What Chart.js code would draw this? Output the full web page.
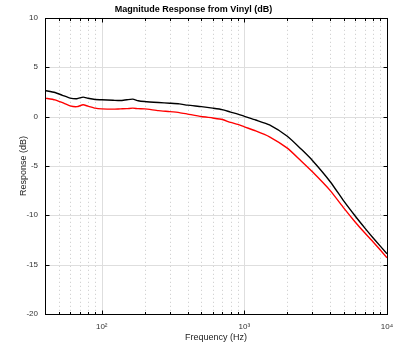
<!DOCTYPE html>
<html><head><meta charset="utf-8">
<script src="https://cdn.jsdelivr.net/npm/chart.js@4.4.1/dist/chart.umd.min.js"></script>
<style>html,body{margin:0;padding:0;background:#fff}#wrap{width:398px;height:347px}</style>
</head><body><div id="wrap"><canvas id="c" width="398" height="347"></canvas></div>
<script>
const freqHz = [40, 47, 53, 60, 67, 74, 80, 90, 100, 120, 135, 150, 165, 180, 200, 250, 300, 350, 400, 500, 600, 700, 800, 900, 1000, 1200, 1500, 2000, 2500, 3000, 4000, 5000, 6000, 7000, 8000, 10000];
const responseBlack = [2.64, 2.43, 2.15, 1.87, 1.80, 1.97, 1.85, 1.72, 1.70, 1.65, 1.62, 1.70, 1.76, 1.60, 1.52, 1.42, 1.35, 1.28, 1.15, 1.00, 0.85, 0.70, 0.45, 0.25, 0.02, -0.35, -0.85, -2.00, -3.30, -4.45, -6.60, -8.60, -10.10, -11.30, -12.30, -13.90];
const responseRed = [1.87, 1.69, 1.40, 1.08, 1.00, 1.19, 1.05, 0.85, 0.78, 0.75, 0.78, 0.80, 0.85, 0.80, 0.78, 0.60, 0.50, 0.40, 0.25, 0.00, -0.15, -0.30, -0.60, -0.80, -1.05, -1.45, -2.05, -3.20, -4.50, -5.60, -7.50, -9.30, -10.70, -11.80, -12.70, -14.30];
const yTickValues = [-20, -15, -10, -5, 0, 5, 10];
const xMajorTicks = [100, 1000, 10000];
const xTickLabels = ['10²', '10³', '10⁴'];
const xMinorGrid = [50, 60, 70, 80, 90, 200, 300, 400, 500, 600, 700, 800, 900, 2000, 3000, 4000, 5000, 6000, 7000, 8000, 9000];

const FONT = "'Liberation Sans', Arial, sans-serif";

const framePlugin = {
  id: 'frame',
  beforeDatasetsDraw(chart) {
    const {ctx, chartArea: a, scales: {x, y}} = chart;
    ctx.save();
    ctx.lineWidth = 1;
    ctx.strokeStyle = '#c8c8c8';
    ctx.setLineDash([1, 3]);
    xMinorGrid.forEach(v => {
      const px = Math.round(x.getPixelForValue(v)) + 0.5;
      ctx.beginPath(); ctx.moveTo(px, a.top); ctx.lineTo(px, a.bottom); ctx.stroke();
    });
    ctx.setLineDash([]);
    ctx.strokeStyle = '#dedede';
    xMajorTicks.forEach(v => {
      const px = Math.round(x.getPixelForValue(v)) + 0.5;
      ctx.beginPath(); ctx.moveTo(px, a.top); ctx.lineTo(px, a.bottom); ctx.stroke();
    });
    yTickValues.forEach(v => {
      const py = Math.round(y.getPixelForValue(v)) + 0.5;
      ctx.beginPath(); ctx.moveTo(a.left, py); ctx.lineTo(a.right, py); ctx.stroke();
    });
    ctx.restore();
  },
  afterDatasetsDraw(chart) {
    const {ctx, chartArea: a, scales: {x, y}} = chart;
    ctx.save();
    ctx.strokeStyle = '#000';
    ctx.lineWidth = 1;
    const L = Math.round(a.left) + 0.5, R = Math.round(a.right) + 0.5;
    const T = Math.round(a.top) + 0.5, B = Math.round(a.bottom) + 0.5;
    ctx.strokeRect(L, T, R - L, B - T);
    const tickX = (v, len) => {
      const px = Math.round(x.getPixelForValue(v)) + 0.5;
      ctx.beginPath(); ctx.moveTo(px, B); ctx.lineTo(px, B - len);
      ctx.moveTo(px, T); ctx.lineTo(px, T + len); ctx.stroke();
    };
    xMinorGrid.forEach(v => tickX(v, 2.5));
    xMajorTicks.forEach(v => tickX(v, 4));
    yTickValues.forEach(v => {
      const py = Math.round(y.getPixelForValue(v)) + 0.5;
      ctx.beginPath(); ctx.moveTo(L, py); ctx.lineTo(L + 4, py);
      ctx.moveTo(R, py); ctx.lineTo(R - 4, py); ctx.stroke();
    });
    ctx.restore();
  }
};

new Chart(document.getElementById('c'), {
  type: 'line',
  data: {
    datasets: [
      { label: 'Black', data: freqHz.map((f, i) => ({x: f, y: responseBlack[i]})), borderColor: '#000', borderWidth: 1.4, pointRadius: 0, tension: 0.2 },
      { label: 'Red', data: freqHz.map((f, i) => ({x: f, y: responseRed[i]})), borderColor: '#ff0000', borderWidth: 1.4, pointRadius: 0, tension: 0.2 }
    ]
  },
  options: {
    responsive: false,
    animation: false,
    devicePixelRatio: 1,
    layout: { padding: { left: 0, right: 11, top: 0, bottom: 0 } },
    plugins: {
      legend: { display: false },
      tooltip: { enabled: false },
      title: { display: true, text: 'Magnitude Response from Vinyl (dB)', color: '#000', font: { family: FONT, size: 9, weight: 'bold' }, padding: { top: 4, bottom: 3 } }
    },
    scales: {
      x: {
        type: 'logarithmic', min: 40, max: 10000,
        grid: { display: false, drawTicks: false }, border: { display: false },
        afterBuildTicks: s => { s.ticks = xMajorTicks.map(v => ({ value: v })); },
        afterFit: s => { s.height = 33; s.paddingLeft = 0; s.paddingRight = 0; },
        ticks: { autoSkip: false, maxRotation: 0, color: '#333', font: { family: FONT, size: 8 }, padding: 8,
          callback: v => { const i = xMajorTicks.indexOf(v); return i >= 0 ? xTickLabels[i] : ''; } },
        title: { display: true, text: 'Frequency (Hz)', color: '#222', font: { family: FONT, size: 9 }, padding: { top: 0, bottom: 4 } }
      },
      y: {
        min: -20, max: 10,
        grid: { display: false, drawTicks: false }, border: { display: false },
        afterBuildTicks: s => { s.ticks = yTickValues.map(v => ({ value: v })); },
        afterFit: s => { s.width = 45; s.paddingTop = 0; s.paddingBottom = 0; },
        ticks: { color: '#333', font: { family: FONT, size: 8 }, padding: 7 },
        title: { display: true, text: 'Response (dB)', color: '#222', font: { family: FONT, size: 9 }, padding: { top: 18, bottom: 0 } }
      }
    }
  },
  plugins: [framePlugin]
});
</script>
</body></html>
